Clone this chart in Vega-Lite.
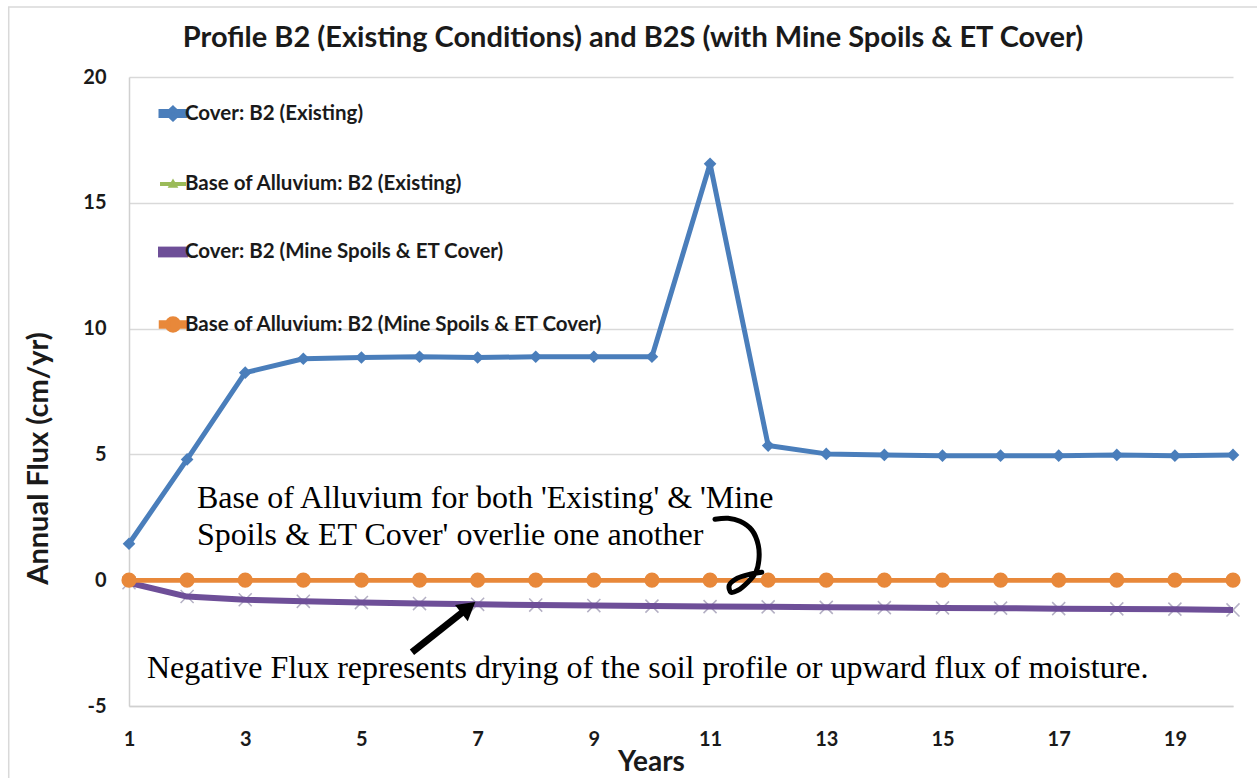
{
  "$schema": "https://vega.github.io/schema/vega-lite/v6.json",
  "width": 1104,
  "height": 629,
  "autosize": "none",
  "padding": {"left": 129, "top": 77, "right": 24, "bottom": 72},
  "background": "white",
  "title": {
    "text": "Profile B2 (Existing Conditions) and B2S (with Mine Spoils & ET Cover)",
    "font": "Lato", "fontSize": 29, "fontWeight": "bold", "color": "#1a1a1a",
    "anchor": "middle", "frame": "group", "dx": -48, "dy": 71, "offset": 24
  },
  "datasets": {
    "flux": [
      {"year": 1, "series": "Cover: B2 (Existing)", "flux": 1.45},
      {"year": 2, "series": "Cover: B2 (Existing)", "flux": 4.8},
      {"year": 3, "series": "Cover: B2 (Existing)", "flux": 8.25},
      {"year": 4, "series": "Cover: B2 (Existing)", "flux": 8.8},
      {"year": 5, "series": "Cover: B2 (Existing)", "flux": 8.85},
      {"year": 6, "series": "Cover: B2 (Existing)", "flux": 8.88},
      {"year": 7, "series": "Cover: B2 (Existing)", "flux": 8.85},
      {"year": 8, "series": "Cover: B2 (Existing)", "flux": 8.88},
      {"year": 9, "series": "Cover: B2 (Existing)", "flux": 8.88},
      {"year": 10, "series": "Cover: B2 (Existing)", "flux": 8.88},
      {"year": 11, "series": "Cover: B2 (Existing)", "flux": 16.55},
      {"year": 12, "series": "Cover: B2 (Existing)", "flux": 5.35},
      {"year": 13, "series": "Cover: B2 (Existing)", "flux": 5.02},
      {"year": 14, "series": "Cover: B2 (Existing)", "flux": 4.98},
      {"year": 15, "series": "Cover: B2 (Existing)", "flux": 4.95},
      {"year": 16, "series": "Cover: B2 (Existing)", "flux": 4.95},
      {"year": 17, "series": "Cover: B2 (Existing)", "flux": 4.95},
      {"year": 18, "series": "Cover: B2 (Existing)", "flux": 4.98},
      {"year": 19, "series": "Cover: B2 (Existing)", "flux": 4.95},
      {"year": 20, "series": "Cover: B2 (Existing)", "flux": 4.98},
      {"year": 1, "series": "Base of Alluvium: B2 (Existing)", "flux": 0},
      {"year": 2, "series": "Base of Alluvium: B2 (Existing)", "flux": 0},
      {"year": 3, "series": "Base of Alluvium: B2 (Existing)", "flux": 0},
      {"year": 4, "series": "Base of Alluvium: B2 (Existing)", "flux": 0},
      {"year": 5, "series": "Base of Alluvium: B2 (Existing)", "flux": 0},
      {"year": 6, "series": "Base of Alluvium: B2 (Existing)", "flux": 0},
      {"year": 7, "series": "Base of Alluvium: B2 (Existing)", "flux": 0},
      {"year": 8, "series": "Base of Alluvium: B2 (Existing)", "flux": 0},
      {"year": 9, "series": "Base of Alluvium: B2 (Existing)", "flux": 0},
      {"year": 10, "series": "Base of Alluvium: B2 (Existing)", "flux": 0},
      {"year": 11, "series": "Base of Alluvium: B2 (Existing)", "flux": 0},
      {"year": 12, "series": "Base of Alluvium: B2 (Existing)", "flux": 0},
      {"year": 13, "series": "Base of Alluvium: B2 (Existing)", "flux": 0},
      {"year": 14, "series": "Base of Alluvium: B2 (Existing)", "flux": 0},
      {"year": 15, "series": "Base of Alluvium: B2 (Existing)", "flux": 0},
      {"year": 16, "series": "Base of Alluvium: B2 (Existing)", "flux": 0},
      {"year": 17, "series": "Base of Alluvium: B2 (Existing)", "flux": 0},
      {"year": 18, "series": "Base of Alluvium: B2 (Existing)", "flux": 0},
      {"year": 19, "series": "Base of Alluvium: B2 (Existing)", "flux": 0},
      {"year": 20, "series": "Base of Alluvium: B2 (Existing)", "flux": 0},
      {"year": 1, "series": "Cover: B2 (Mine Spoils & ET Cover)", "flux": -0.1},
      {"year": 2, "series": "Cover: B2 (Mine Spoils & ET Cover)", "flux": -0.65},
      {"year": 3, "series": "Cover: B2 (Mine Spoils & ET Cover)", "flux": -0.78},
      {"year": 4, "series": "Cover: B2 (Mine Spoils & ET Cover)", "flux": -0.84},
      {"year": 5, "series": "Cover: B2 (Mine Spoils & ET Cover)", "flux": -0.89},
      {"year": 6, "series": "Cover: B2 (Mine Spoils & ET Cover)", "flux": -0.93},
      {"year": 7, "series": "Cover: B2 (Mine Spoils & ET Cover)", "flux": -0.96},
      {"year": 8, "series": "Cover: B2 (Mine Spoils & ET Cover)", "flux": -0.99},
      {"year": 9, "series": "Cover: B2 (Mine Spoils & ET Cover)", "flux": -1.01},
      {"year": 10, "series": "Cover: B2 (Mine Spoils & ET Cover)", "flux": -1.03},
      {"year": 11, "series": "Cover: B2 (Mine Spoils & ET Cover)", "flux": -1.05},
      {"year": 12, "series": "Cover: B2 (Mine Spoils & ET Cover)", "flux": -1.06},
      {"year": 13, "series": "Cover: B2 (Mine Spoils & ET Cover)", "flux": -1.08},
      {"year": 14, "series": "Cover: B2 (Mine Spoils & ET Cover)", "flux": -1.09},
      {"year": 15, "series": "Cover: B2 (Mine Spoils & ET Cover)", "flux": -1.1},
      {"year": 16, "series": "Cover: B2 (Mine Spoils & ET Cover)", "flux": -1.11},
      {"year": 17, "series": "Cover: B2 (Mine Spoils & ET Cover)", "flux": -1.13},
      {"year": 18, "series": "Cover: B2 (Mine Spoils & ET Cover)", "flux": -1.14},
      {"year": 19, "series": "Cover: B2 (Mine Spoils & ET Cover)", "flux": -1.15},
      {"year": 20, "series": "Cover: B2 (Mine Spoils & ET Cover)", "flux": -1.18},
      {"year": 1, "series": "Base of Alluvium: B2 (Mine Spoils & ET Cover)", "flux": 0},
      {"year": 2, "series": "Base of Alluvium: B2 (Mine Spoils & ET Cover)", "flux": 0},
      {"year": 3, "series": "Base of Alluvium: B2 (Mine Spoils & ET Cover)", "flux": 0},
      {"year": 4, "series": "Base of Alluvium: B2 (Mine Spoils & ET Cover)", "flux": 0},
      {"year": 5, "series": "Base of Alluvium: B2 (Mine Spoils & ET Cover)", "flux": 0},
      {"year": 6, "series": "Base of Alluvium: B2 (Mine Spoils & ET Cover)", "flux": 0},
      {"year": 7, "series": "Base of Alluvium: B2 (Mine Spoils & ET Cover)", "flux": 0},
      {"year": 8, "series": "Base of Alluvium: B2 (Mine Spoils & ET Cover)", "flux": 0},
      {"year": 9, "series": "Base of Alluvium: B2 (Mine Spoils & ET Cover)", "flux": 0},
      {"year": 10, "series": "Base of Alluvium: B2 (Mine Spoils & ET Cover)", "flux": 0},
      {"year": 11, "series": "Base of Alluvium: B2 (Mine Spoils & ET Cover)", "flux": 0},
      {"year": 12, "series": "Base of Alluvium: B2 (Mine Spoils & ET Cover)", "flux": 0},
      {"year": 13, "series": "Base of Alluvium: B2 (Mine Spoils & ET Cover)", "flux": 0},
      {"year": 14, "series": "Base of Alluvium: B2 (Mine Spoils & ET Cover)", "flux": 0},
      {"year": 15, "series": "Base of Alluvium: B2 (Mine Spoils & ET Cover)", "flux": 0},
      {"year": 16, "series": "Base of Alluvium: B2 (Mine Spoils & ET Cover)", "flux": 0},
      {"year": 17, "series": "Base of Alluvium: B2 (Mine Spoils & ET Cover)", "flux": 0},
      {"year": 18, "series": "Base of Alluvium: B2 (Mine Spoils & ET Cover)", "flux": 0},
      {"year": 19, "series": "Base of Alluvium: B2 (Mine Spoils & ET Cover)", "flux": 0},
      {"year": 20, "series": "Base of Alluvium: B2 (Mine Spoils & ET Cover)", "flux": 0}
    ],
    "notes": [
      {"year": 2.17, "flux": 2.86, "label": "Base of Alluvium for both 'Existing' & 'Mine\nSpoils & ET Cover' overlie one another"},
      {"year": 1.31, "flux": -3.9, "label": "Negative Flux represents drying of the soil profile or upward flux of moisture."}
    ],
    "arrow": [
      {"year": 5.87, "flux": -2.86, "year2": 6.84, "flux2": -1.09}
    ],
    "arrowhead": [
      {"year": 6.84, "flux": -1.09}
    ],
    "brace": [
      {"i": 1, "year": 11.085, "flux": 2.42},
      {"i": 2, "year": 11.31, "flux": 2.46},
      {"i": 3, "year": 11.516, "flux": 2.34},
      {"i": 4, "year": 11.72, "flux": 1.99},
      {"i": 5, "year": 11.83, "flux": 1.39},
      {"i": 6, "year": 11.84, "flux": 0.79},
      {"i": 7, "year": 11.79, "flux": 0.32},
      {"i": 8, "year": 11.65, "flux": -0.08},
      {"i": 9, "year": 11.48, "flux": -0.4},
      {"i": 10, "year": 11.36, "flux": -0.48},
      {"i": 11, "year": 11.33, "flux": -0.2},
      {"i": 12, "year": 11.47, "flux": 0.08},
      {"i": 13, "year": 11.69, "flux": 0.24},
      {"i": 14, "year": 11.89, "flux": 0.32}
    ],
    "frame": [
      {"x0": -1.07, "x1": 20.8, "y0": 22.78, "y1": -8.5}
    ]
  },
  "encoding": {
    "x": {
      "field": "year", "type": "quantitative",
      "scale": {"domain": [1, 20], "nice": false, "zero": false},
      "axis": {
        "values": [1, 3, 5, 7, 9, 11, 13, 15, 17, 19],
        "grid": false, "ticks": false, "labelPadding": 23,
        "labelFont": "Lato", "labelFontSize": 20, "labelFontWeight": "bold", "labelColor": "#1a1a1a",
        "labelFlush": false,
        "domainColor": "#d0d0d0", "domainWidth": 1.5,
        "title": "Years", "titleFont": "Lato", "titleFontSize": 28, "titleFontWeight": "bold",
        "titleColor": "#1a1a1a", "titlePadding": -1, "titleX": 522, "titleAlign": "center"
      }
    },
    "y": {
      "field": "flux", "type": "quantitative",
      "scale": {"domain": [-5, 20], "nice": false, "zero": false},
      "axis": {
        "values": [-5, 0, 5, 10, 15, 20],
        "labelExpr": "replace(datum.label, '\u2212', '-')",
        "grid": true, "gridColor": "#d9d9d9", "gridWidth": 1.5,
        "ticks": false, "labelPadding": 23,
        "labelFont": "Lato", "labelFontSize": 20, "labelFontWeight": "bold", "labelColor": "#1a1a1a",
        "labelFlush": false,
        "domainColor": "#d0d0d0", "domainWidth": 1.5,
        "title": "Annual Flux (cm/yr)", "titleFont": "Lato", "titleFontSize": 29, "titleFontWeight": "bold",
        "titleColor": "#1a1a1a", "titleX": -91, "titleY": 381, "titleAngle": -90,
        "titleAlign": "center", "titleBaseline": "middle"
      }
    }
  },
  "layer": [
    {
      "data": {"name": "frame"},
      "mark": {"type": "rect", "filled": false, "stroke": "#d9d9d9", "strokeWidth": 1.5},
      "encoding": {
        "x": {"field": "x0", "type": "quantitative"},
        "x2": {"field": "x1"},
        "y": {"field": "y0", "type": "quantitative"},
        "y2": {"field": "y1"}
      }
    },
    {
      "data": {"name": "flux"},
      "transform": [{"filter": "datum.series === 'Cover: B2 (Mine Spoils & ET Cover)'"}],
      "mark": {"type": "point", "shape": "M-1,-1L1,1M1,-1L-1,1", "size": 170, "filled": false, "stroke": "#b4b0c4", "strokeWidth": 1.5, "opacity": 1}
    },
    {
      "data": {"name": "flux"},
      "mark": {"type": "line", "strokeJoin": "round"},
      "encoding": {
        "color": {
          "field": "series", "type": "nominal",
          "scale": {
            "domain": ["Cover: B2 (Existing)", "Base of Alluvium: B2 (Existing)", "Cover: B2 (Mine Spoils & ET Cover)", "Base of Alluvium: B2 (Mine Spoils & ET Cover)"],
            "range": ["#4A7EBB", "#9BBB59", "#6E4F98", "#E8883A"]
          },
          "legend": {
            "orient": "none", "legendX": 29, "legendY": 22, "title": null, "direction": "vertical",
            "rowPadding": 42, "symbolSize": 576, "padding": 0, "labelOffset": -3, "labelLimit": 700,
            "labelFont": "Lato", "labelFontSize": 20.5, "labelFontWeight": "bold", "labelColor": "#1a1a1a",
            "encode": {
              "symbols": {
                "update": {
                  "shape": {"signal": "datum.value === 'Cover: B2 (Existing)' ? 'M-1,-0.17H-0.3V0.17H-1Z M0.3,-0.17H1V0.17H0.3Z M0,-0.42L0.45,0L0,0.42L-0.45,0Z' : datum.value === 'Base of Alluvium: B2 (Existing)' ? 'M-1,-0.09H-0.2V0.09H-1Z M0.2,-0.09H1V0.09H0.2Z M0,-0.3L0.3,0.22H-0.3Z' : datum.value === 'Cover: B2 (Mine Spoils & ET Cover)' ? 'M-1,-0.2H1V0.2H-1Z' : 'M-1,-0.17H-0.4V0.17H-1Z M0.4,-0.17H1V0.17H0.4Z M-0.5,0A0.5,0.5 0 1,1 0.5,0A0.5,0.5 0 1,1 -0.5,0Z'"},
                  "fill": {"scale": "color", "field": "value"},
                  "stroke": {"value": "transparent"},
                  "strokeWidth": {"value": 0},
                  "opacity": {"value": 1}
                }
              }
            }
          }
        },
        "strokeWidth": {
          "field": "series", "type": "nominal",
          "scale": {
            "type": "ordinal",
            "domain": ["Cover: B2 (Existing)", "Base of Alluvium: B2 (Existing)", "Cover: B2 (Mine Spoils & ET Cover)", "Base of Alluvium: B2 (Mine Spoils & ET Cover)"],
            "range": [5, 2, 6, 4.5]
          },
          "legend": null
        }
      }
    },
    {
      "data": {"name": "flux"},
      "transform": [{"filter": "datum.series === 'Base of Alluvium: B2 (Mine Spoils & ET Cover)'"}],
      "mark": {"type": "line", "color": "#E8883A", "strokeWidth": 4.5}
    },
    {
      "data": {"name": "flux"},
      "transform": [{"filter": "datum.series === 'Cover: B2 (Existing)'"}],
      "mark": {"type": "point", "shape": "diamond", "size": 160, "filled": true, "color": "#4A7EBB", "opacity": 1}
    },
    {
      "data": {"name": "flux"},
      "transform": [{"filter": "datum.series === 'Base of Alluvium: B2 (Existing)'"}],
      "mark": {"type": "point", "shape": "triangle-up", "size": 40, "filled": true, "color": "#9BBB59", "opacity": 1}
    },
    {
      "data": {"name": "flux"},
      "transform": [{"filter": "datum.series === 'Base of Alluvium: B2 (Mine Spoils & ET Cover)'"}],
      "mark": {"type": "point", "shape": "circle", "size": 230, "filled": true, "color": "#E8883A", "opacity": 1}
    },
    {
      "data": {"name": "notes"},
      "mark": {"type": "text", "align": "left", "baseline": "alphabetic", "font": "Liberation Serif", "fontSize": 32, "lineHeight": 37, "lineBreak": "\n", "color": "#000000"},
      "encoding": {"text": {"field": "label"}}
    },
    {
      "data": {"name": "arrow"},
      "mark": {"type": "rule", "color": "#000000", "strokeWidth": 7},
      "encoding": {"x2": {"field": "year2"}, "y2": {"field": "flux2"}}
    },
    {
      "data": {"name": "arrowhead"},
      "mark": {"type": "point", "shape": "triangle-up", "size": 420, "angle": 51.6, "filled": true, "color": "#000000", "opacity": 1}
    },
    {
      "data": {"name": "brace"},
      "mark": {"type": "line", "color": "#000000", "strokeWidth": 5, "interpolate": "catmull-rom", "strokeCap": "round"},
      "encoding": {"order": {"field": "i", "type": "quantitative"}}
    }
  ],
  "config": {"view": {"stroke": null}, "font": "Lato"}
}
